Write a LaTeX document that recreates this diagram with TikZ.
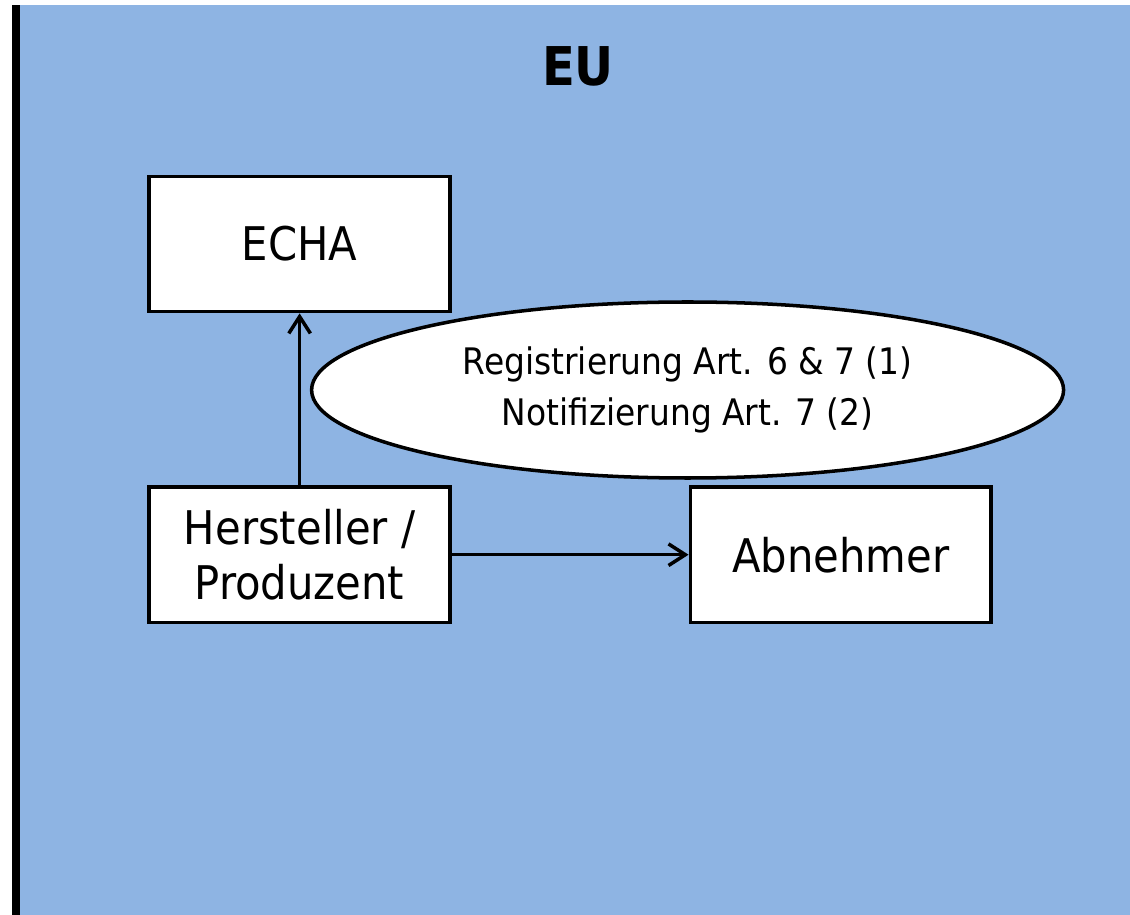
\documentclass[tikz,border=0pt]{standalone}
\usepackage{fontspec}
\setmainfont{DejaVu Sans Condensed}
\usepackage{xcolor}
\usetikzlibrary{positioning}
\usetikzlibrary{arrows.meta}
\usetikzlibrary{shapes.geometric}
\definecolor{eublue}{RGB}{142, 180, 227}
\tikzstyle{actor} = [
	draw=black,
	fill=white,
	line width=2.5pt,
	minimum width=7.52cm,
	minimum height=3.38cm,
	align=center,
	font=\fontsize{33}{39}\selectfont
]
\tikzstyle{duty} = [
	draw=black,
	fill=white,
	ellipse,
	line width=2.5pt,
	minimum width=18.8cm,
	minimum height=4.4cm,
	inner sep=0pt,
	align=center,
	font=\fontsize{26}{36}\selectfont
]
\tikzstyle{flow} = [
	line width=2.5pt,
	-{Straight Barb[length=4.2mm,width=5.4mm,line width=2.5pt]}
]

\begin{document}
\begin{tikzpicture}[node distance=4.3cm and 5.92cm]
	\useasboundingbox (0,0) rectangle (28.25,-22.875);
	
	% EU area
	\fill[eublue] (0.3,-0.125) rectangle (28.25,-22.875);
	\fill[black] (0.3,-0.125) rectangle (0.5,-22.875);
	\node[font=\fontsize{38}{44}\selectfont\bfseries] (eu) at (14.45,-1.65) {EU};
	
	% Actors
	\node[actor] (echa) at (7.49,-6.1) {ECHA};
	\node[actor, below=of echa] (herst) {Hersteller /\\Produzent};
	\node[actor, right=of herst] (abn) {Abnehmer};
	
	% Duties
	\node[duty] (reg) at (17.19,-9.75) {Registrierung Art. 6 \& 7 (1)\\Notifizierung Art. 7 (2)};
	
	% Arrows
	\draw[flow] (herst) -- (echa);
	\draw[flow] (herst) -- (abn);
	
\end{tikzpicture}
\end{document}
